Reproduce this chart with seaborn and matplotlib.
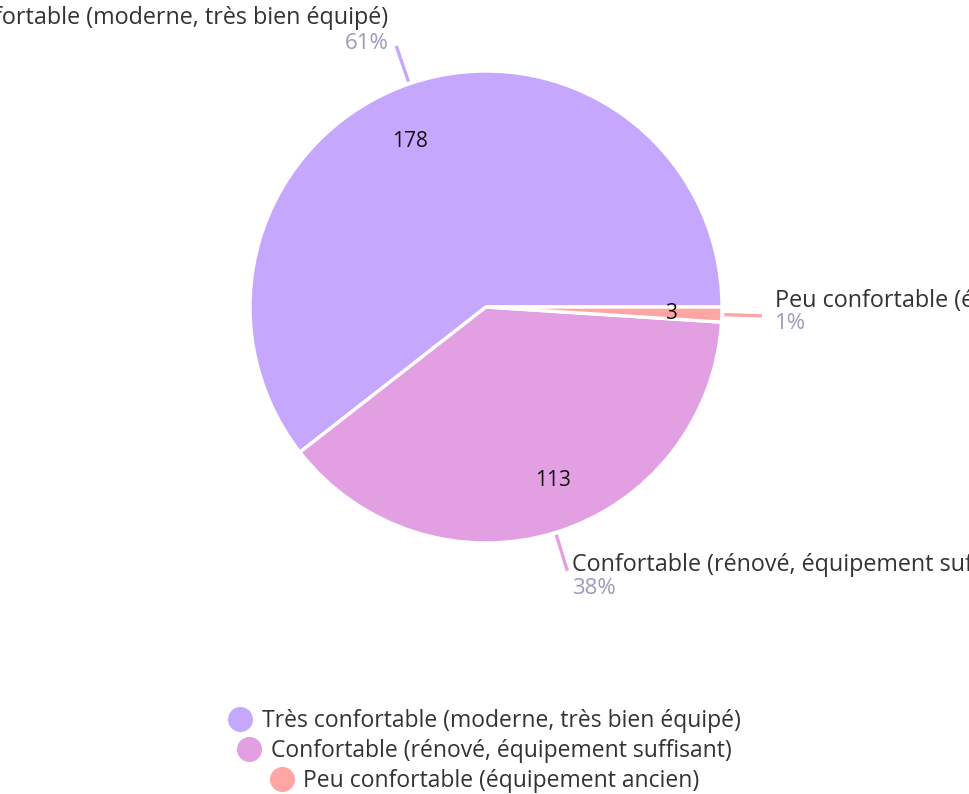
import numpy as np
import matplotlib
matplotlib.use("Agg")
import matplotlib.pyplot as plt
from matplotlib.lines import Line2D
import seaborn as sns

# données
categories = ["Très confortable (moderne, très bien équipé)",
              "Confortable (rénové, équipement suffisant)",
              "Peu confortable (équipement ancien)"]
counts = [178, 113, 3]
colors = ["#C6A7FE", "#E29FE2", "#FFA6A4"]

sns.set_style("white")
plt.rcParams["font.family"] = ["Open Sans", "DejaVu Sans"]

fig = plt.figure(figsize=(9.7, 7.94), dpi=100)
W, H = 970, 794
cx, cy, R = 486, 307, 236
ax = fig.add_axes([(cx - R) / W, (H - cy - R) / H, 2 * R / W, 2 * R / H])

total = sum(counts)
wedges, texts = ax.pie(counts, colors=colors, startangle=0, counterclock=True,
                       radius=1, labels=[str(c) for c in counts], labeldistance=0.78,
                       wedgeprops=dict(edgecolor="white", linewidth=2.4))
ax.set_xlim(-1, 1)
ax.set_ylim(-1, 1)
ax.set_aspect("equal")
ax.axis("off")

px = 1 / R  # une unité pixel en coordonnées données
# petits décalages (pixels) des valeurs internes
inner_shift = [(-16, -9), (13, 2), (1, -1)]
for t, (sx, sy) in zip(texts, inner_shift):
    x, y = t.get_position()
    t.set_position((x + sx * px, y + sy * px))
    t.set_fontsize(15)
    t.set_color("#111111")
    t.set_ha("center")
    t.set_va("center")

# étiquettes extérieures avec traits
# (décalage en pixels du libellé et du pourcentage par rapport au bout du trait)
offsets = [(-8, 28, 2), (5, 6, -18), (13, 15, -8)]
for w, cat, c, col, (dx, dl, dp) in zip(wedges, categories, counts, colors, offsets):
    mid = np.deg2rad((w.theta1 + w.theta2) / 2)
    x0, y0 = 1.01 * np.cos(mid), 1.01 * np.sin(mid)
    x1, y1 = 1.17 * np.cos(mid), 1.17 * np.sin(mid)
    ax.plot([x0, x1], [y0, y1], color=col, lw=2.4, clip_on=False, solid_capstyle="butt")
    ha = "left" if np.cos(mid) > 0 else "right"
    ax.text(x1 + dx * px, y1 + dl * px, cat, ha=ha, va="center",
            fontsize=16.8, color="#333333", clip_on=False)
    ax.text(x1 + dx * px, y1 + dp * px, f"{round(100 * c / total)}%", ha=ha, va="center",
            fontsize=16, color="#9B9BBA", clip_on=False)

# légende centrée, une ligne par catégorie
ys = [1 - 721 / H, 1 - 751 / H, 1 - 781 / H]
for cat, col, y in zip(categories, colors, ys):
    h = Line2D([], [], marker="o", color="none", markerfacecolor=col,
               markeredgecolor=col, markersize=17)
    leg = fig.legend([h], [cat], loc="center", bbox_to_anchor=(0.5, y),
                     frameon=False, fontsize=16.5, handletextpad=0.45,
                     borderpad=0, handlelength=1.0)
    for t in leg.get_texts():
        t.set_color("#333333")

fig.savefig("out.png", dpi=100)
